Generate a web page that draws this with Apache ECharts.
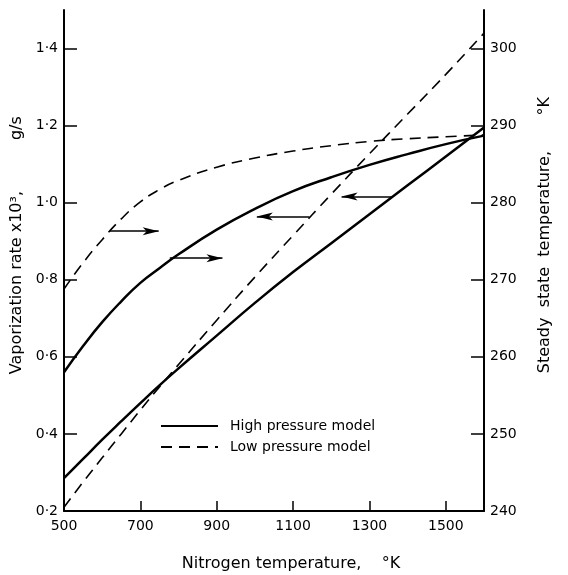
<!DOCTYPE html>
<html>
<head>
<meta charset="utf-8">
<script src="https://cdn.jsdelivr.net/npm/echarts@6/dist/echarts.min.js"></script>
<style>
  html, body { margin: 0; padding: 0; background: #fff; }
  #chart { width: 568px; height: 575px; }
</style>
</head>
<body>
<div id="chart"></div>
<script>
'use strict';

// nitrogen temperature, K
var temps = [500, 550, 600, 650, 700, 750, 800, 900, 1000, 1100, 1200, 1300, 1400, 1500, 1600];

// vaporization rate x10^3, g/s (left axis)
var rateHigh = [0.285, 0.335, 0.385, 0.433, 0.48, 0.526, 0.57, 0.655, 0.74, 0.82, 0.895, 0.97, 1.045, 1.12, 1.195];
var rateLow  = [0.21, 0.275, 0.338, 0.40, 0.462, 0.522, 0.58, 0.695, 0.807, 0.915, 1.022, 1.127, 1.23, 1.333, 1.44];

// steady state temperature, K (right axis)
var steadyHigh = [258.0, 261.4, 264.5, 267.2, 269.6, 271.5, 273.3, 276.5, 279.2, 281.5, 283.3, 284.9, 286.3, 287.6, 288.7];
var steadyLow  = [268.8, 272.2, 275.2, 277.9, 280.1, 281.7, 282.9, 284.6, 285.8, 286.7, 287.4, 287.95, 288.3, 288.55, 288.8];

var xTicks = [500, 700, 900, 1100, 1300, 1500];
var rateTicks = [0.2, 0.4, 0.6, 0.8, 1.0, 1.2, 1.4];
var steadyTicks = [240, 250, 260, 270, 280, 290, 300];

// arrows pointing to the axis each curve belongs to: [x0, y0, x1, y1]
var arrowsSteady = [[620, 276.3, 748, 276.3], [777, 272.8, 915, 272.8]];
var arrowsRate = [[1143, 0.964, 1005, 0.964], [1360, 1.016, 1227, 1.016]];

function pairs(xs, ys) {
  return xs.map(function(x, i) { return [x, ys[i]]; });
}
function arrowData(list) {
  return list.map(function(a) { return [{coord: [a[0], a[1]]}, {coord: [a[2], a[3]]}]; });
}
var font = 'DejaVu Sans';
var arrowLine = {
  silent: true,
  symbol: ['none', 'arrow'],
  symbolSize: [6, 16],
  label: { show: false },
  lineStyle: { type: 'solid', color: '#000', width: 1.5 },
  emphasis: { disabled: true }
};
var noDot = { color: 'transparent', borderColor: 'transparent' };

var chart = echarts.init(document.getElementById('chart'));
chart.setOption({
  animation: false,
  backgroundColor: '#fff',
  textStyle: { fontFamily: font, color: '#000' },
  grid: { left: 64, right: 84, top: 10, bottom: 64, containLabel: false, outerBoundsMode: 'none' },
  legend: {
    orient: 'vertical',
    left: 160, top: 419, padding: 0,
    itemWidth: 57, itemHeight: 14, itemGap: 7,
    data: ['High pressure model', 'Low pressure model'],
    textStyle: { fontFamily: font, fontSize: 14, color: '#000', padding: [0, 0, 0, 7] }
  },
  xAxis: {
    type: 'value', min: 500, max: 1600,
    name: 'Nitrogen temperature,    °K',
    nameLocation: 'middle', nameGap: 45,
    nameTextStyle: { fontFamily: font, fontSize: 16, color: '#000', padding: [0, 0, 0, 34] },
    axisLine: { lineStyle: { color: '#000', width: 2 } },
    axisTick: { inside: true, length: 10, customValues: xTicks, lineStyle: { color: '#000', width: 1.5 } },
    axisLabel: {
      customValues: xTicks, fontSize: 14, color: '#000', margin: 8,
      formatter: function(v) { return String(v); }
    },
    splitLine: { show: false }
  },
  yAxis: [{
    type: 'value', min: 0.2, max: 1.5,
    name: '      Vaporization rate x10³,          g/s',
    nameLocation: 'middle', nameGap: 32, nameRotate: 90,
    nameTextStyle: { fontFamily: font, fontSize: 16, color: '#000' },
    axisLine: { show: true, lineStyle: { color: '#000', width: 2 } },
    axisTick: { show: true, inside: true, length: 13, customValues: rateTicks, lineStyle: { color: '#000', width: 1.5 } },
    axisLabel: {
      customValues: rateTicks, fontSize: 14, color: '#000', margin: 6,
      formatter: function(v) { return v.toFixed(1).replace('.', '·'); }
    },
    splitLine: { show: false }
  }, {
    type: 'value', min: 240, max: 305, position: 'right',
    name: '          Steady  state  temperature,       °K',
    nameLocation: 'middle', nameGap: 53, nameRotate: 90,
    nameTextStyle: { fontFamily: font, fontSize: 16, color: '#000' },
    axisLine: { show: true, lineStyle: { color: '#000', width: 2 } },
    axisTick: { show: true, inside: true, length: 13, customValues: steadyTicks, lineStyle: { color: '#000', width: 1.5 } },
    axisLabel: { customValues: steadyTicks, fontSize: 14, color: '#000', margin: 6 },
    splitLine: { show: false }
  }],
  series: [{
    name: 'High pressure model', type: 'line', yAxisIndex: 1,
    data: pairs(temps, steadyHigh), smooth: true, symbol: 'none', itemStyle: noDot,
    lineStyle: { color: '#000', width: 2.5, type: 'solid' },
    markLine: Object.assign({ data: arrowData(arrowsSteady) }, arrowLine)
  }, {
    name: 'Low pressure model', type: 'line', yAxisIndex: 1,
    data: pairs(temps, steadyLow), smooth: true, symbol: 'none', itemStyle: noDot,
    lineStyle: { color: '#000', width: 1.6, type: [11, 7] }
  }, {
    name: 'High pressure model', type: 'line', yAxisIndex: 0,
    data: pairs(temps, rateHigh), smooth: true, symbol: 'none', itemStyle: noDot,
    lineStyle: { color: '#000', width: 2.5, type: 'solid' },
    markLine: Object.assign({ data: arrowData(arrowsRate) }, arrowLine)
  }, {
    name: 'Low pressure model', type: 'line', yAxisIndex: 0,
    data: pairs(temps, rateLow), smooth: true, symbol: 'none', itemStyle: noDot,
    lineStyle: { color: '#000', width: 1.6, type: [11, 7] }
  }]
});
</script>
</body>
</html>
